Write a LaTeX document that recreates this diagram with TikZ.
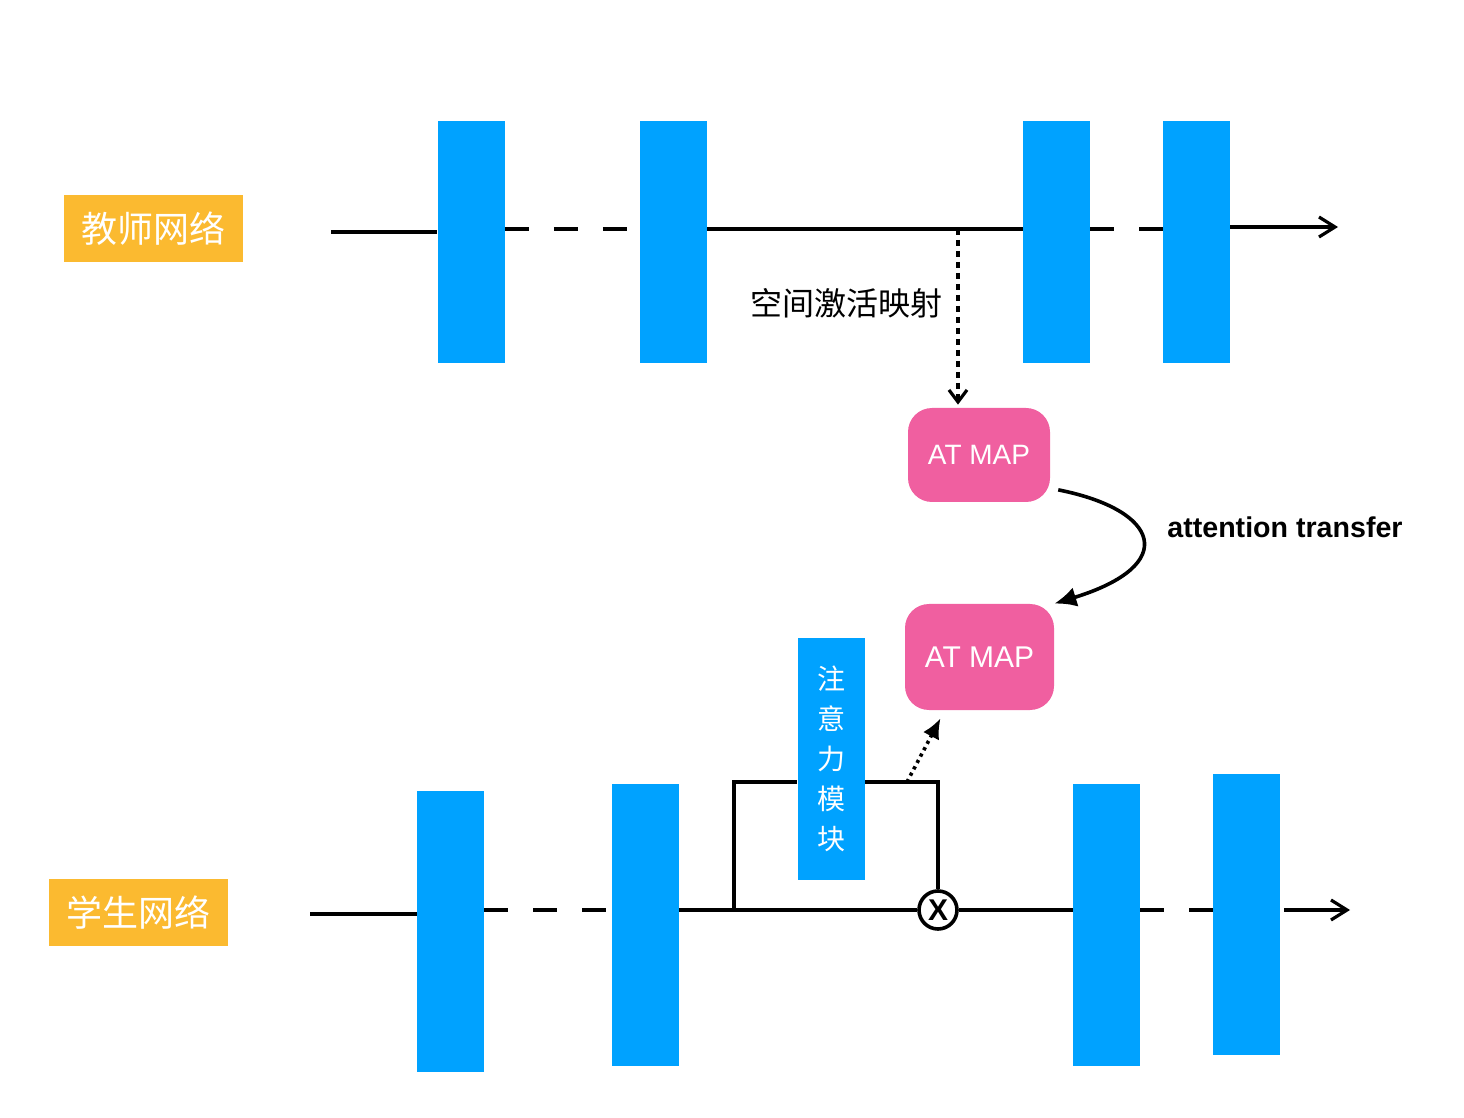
\documentclass[tikz,border=0pt]{standalone}
\usepackage{fontspec}
\setmainfont{Liberation Sans}
\newfontfamily\cjk{Noto Sans CJK SC}
\usetikzlibrary{arrows.meta,calc}
\definecolor{blockblue}{HTML}{00A2FF}
\definecolor{mappink}{HTML}{F05FA0}
\definecolor{tagorange}{HTML}{FBBA30}
\begin{document}
\begin{tikzpicture}[x=0.5pt,y=-0.5pt]

\tikzset{block/.style = {shape=rectangle,fill=blockblue,minimum width=33.5pt,minimum height=121pt,inner sep=0pt}}
\tikzset{tag/.style = {shape=rectangle,fill=tagorange,text=white,minimum width=89.5pt,minimum height=33.5pt,inner sep=0pt,font=\cjk\fontsize{18}{18}\selectfont}}
\tikzset{atmap/.style = {shape=rectangle,rounded corners=12pt,fill=mappink,text=white,inner sep=0pt}}
\tikzset{edge/.style = {line width=1.8pt}}
\tikzset{gap/.style = {edge,dash pattern=on 12pt off 12.5pt}}
\tikzset{outedge/.style = {edge,-{Straight Barb[length=8pt,width=10pt,line width=1.6pt]}}}
\tikzset{dotedge/.style = {line width=1.6pt,dash pattern=on 3pt off 2.5pt,-{Straight Barb[length=6pt,width=9pt,line width=1.6pt]}}}
\tikzset{dotarrow/.style = {line width=1.8pt,dash pattern=on 1.6pt off 2pt,-{Latex[length=10pt,width=9pt]}}}
\tikzset{transferedge/.style = {line width=1.8pt,-{Latex[length=11pt,width=10pt]}}}
\useasboundingbox (0,0) rectangle (1464,1118);
% tags
\node[tag] (teacher) at (153.5,228.5) {教师网络};
\node[tag] (student) at (138.5,912.5) {学生网络};
% teacher blocks
\node[block] (t1) at (471,242) {};
\node[block] (t2) at (673.5,242) {};
\node[block] (t3) at (1056.5,242) {};
\node[block] (t4) at (1196.5,242) {};
% student blocks
\node[block,minimum height=140.5pt] (s1) at (450.5,931.5) {};
\node[block,minimum height=141pt] (s2) at (645,925) {};
\node[block,minimum height=141pt] (s3) at (1106.5,925) {};
\node[block,minimum height=140.5pt] (s4) at (1246.5,914.5) {};
\node[block,minimum height=121pt,align=center,text=white,font=\cjk\fontsize{14}{20}\selectfont] (attn) at (831,759) {注\\意\\力\\模\\块};
% maps
\node[atmap,minimum width=71pt,minimum height=47pt,font=\fontsize{14}{14}\selectfont] (at1) at (979,455) {AT MAP};
\node[atmap,minimum width=74.5pt,minimum height=53pt,font=\fontsize{15}{15}\selectfont] (at2) at (979.5,657) {AT MAP};
\node[circle,draw,line width=1.8pt,minimum size=19pt,inner sep=0pt,font=\bfseries\fontsize{15}{15}\selectfont] (mul) at (938,910) {X};
% labels
\node[font=\cjk\fontsize{16}{16}\selectfont] (maplabel) at (846,303) {空间激活映射};
\node[font=\bfseries\fontsize{14.3}{14.3}\selectfont] (translabel) at (1285,527) {attention transfer};
% teacher edges
\coordinate (tin) at (331,232);
\coordinate (trow) at (0,229);
\coordinate (tout) at (1338,227);
\coordinate (tap) at (958,229);
\draw[edge] (tin) -- (tin -| t1.west);
\draw[gap] (t1.east |- trow) -- (t2.west |- trow);
\draw[edge] (t2.east |- trow) -- (t3.west |- trow);
\draw[gap] (t3.east |- trow) -- (t4.west |- trow);
\draw[outedge] (t4.east |- tout) -- (tout);
\draw[dotedge,shorten >=1.5pt] (tap) -- (tap |- at1.north);
% transfer
\draw[transferedge,shorten <=4pt] (at1.-25) .. controls (1160,510) and (1180,565) .. (at2.north east);
% student edges
\coordinate (sin) at (310,914);
\coordinate (srow) at (0,910);
\coordinate (sout) at (1350,910);
\coordinate (split) at (734,910);
\coordinate (brow) at (0,782);
\coordinate (tap2) at (907,782);
\draw[edge] (sin) -- (sin -| s1.west);
\draw[gap] (s1.east |- srow) -- (s2.west |- srow);
\draw[edge] (s2.east |- srow) -- (mul.west);
\draw[edge] (mul.east) -- (s3.west |- srow);
\draw[gap] (s3.east |- srow) -- (s4.west |- srow);
\draw[outedge,shorten <=2pt] (s4.east |- sout) -- (sout);
\draw[edge] (split) |- (attn.west |- brow);
\draw[edge] (attn.east |- brow) -| (mul.north);
\draw[dotarrow] (tap2) -- ($(at2.south)+(-39,8)$);
\end{tikzpicture}
\end{document}
